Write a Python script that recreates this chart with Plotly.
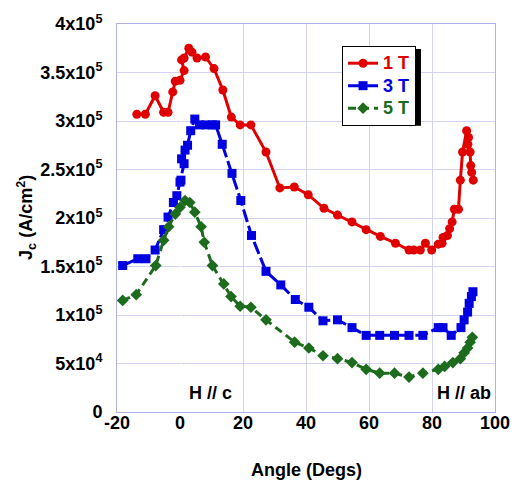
import plotly.graph_objects as go

# 1 T
red_x = [-13.7, -11.0, -7.9, -5.2, -3.8, -2.3, -1.5, 0.0, 1.3, 0.5, 1.3, 2.8, 3.8, 5.4, 8.1, 10.8, 13.6, 16.3, 19.1, 22.5,
         27.3, 31.7, 36.3, 40.7, 45.7, 50.0, 54.6, 59.1, 63.6, 68.4, 72.7, 74.2, 76.3, 77.9, 79.9, 82.0, 83.2, 83.5, 84.9,
         85.6, 86.4, 87.1, 88.4, 89.0, 89.7, 91.0, 91.6, 91.4, 92.1, 92.3, 92.6, 93.1]
red_y = [307, 307, 326, 309, 309, 330, 341, 342, 352, 363, 365, 375, 371, 365, 366, 354, 332, 304, 296, 296,
         268, 231, 232, 224, 210, 203, 196, 188, 181, 174, 167, 167, 167, 174, 167, 173, 174, 180, 182,
         189, 196, 209, 209, 239, 268, 290, 283, 276, 268, 254, 247, 239]
# 3 T
blue_x = [-18.2, -13.4, -10.8, -7.9, -5.2, -3.8, -2.1, -1.0, 0.0, 0.3, 1.3, 0.5, 1.6, 2.4, 3.4, 4.7, 6.2, 8.2, 10.3, 11.3,
          13.4, 16.5, 19.3, 22.7, 27.3, 32.0, 36.6, 40.9, 45.4, 50.0, 54.6, 59.1, 63.4, 68.1, 72.7, 77.1, 82.0, 83.5,
          86.1, 89.2, 90.2, 91.3, 91.8, 92.5, 93.0]
blue_y = [151, 158, 158, 167, 188, 201, 216, 223, 237, 239, 256, 261, 270, 275, 290, 302, 296, 296, 296, 296,
          276, 246, 218, 182, 145, 131, 116, 108, 94, 95, 87, 79, 79, 79, 79, 79, 87, 87,
          79, 87, 95, 103, 112, 119, 124]
# 5 T
green_x = [-18.2, -13.9, -7.7, -5.2, -3.6, -1.5, 0.0, 1.6, 3.1, 4.7, 6.7, 7.7, 10.3, 13.9, 16.2, 19.1, 22.5, 27.3,
           36.4, 40.9, 45.4, 50.0, 54.6, 59.1, 63.4, 68.1, 72.7, 77.1, 82.0, 84.0, 86.6, 89.0, 90.2, 91.3, 92.1, 92.8]
green_y = [115, 121, 151, 177, 191, 204, 211, 218, 216, 206, 191, 175, 151, 132, 119, 109, 108, 95,
           72, 66, 58, 55, 51, 44, 40, 40, 36, 40, 44, 47, 51, 55, 61, 66, 72, 77]

y_tickvals = [0, 50000, 100000, 150000, 200000, 250000, 300000, 350000, 400000]
y_ticktext = ["0", "5x10<sup>4</sup>", "1x10<sup>5</sup>", "1.5x10<sup>5</sup>", "2x10<sup>5</sup>",
              "2.5x10<sup>5</sup>", "3x10<sup>5</sup>", "3.5x10<sup>5</sup>", "4x10<sup>5</sup>"]
x_tickvals = [-20, 0, 20, 40, 60, 80, 100]
x_ticktext = ["-20", "0", "20", "40", "60", "80", "100"]

RED, BLUE, GREEN = "#e10000", "#0000e0", "#1d6b1d"
FONT = "Liberation Sans, Arial, sans-serif"

def lname(label, color):
    return '<span style="color:%s;font-size:18px">%s</span>' % (color, label)

fig = go.Figure()
fig.add_trace(go.Scatter(x=red_x, y=[v * 1000 for v in red_y], mode="lines+markers",
                         name=lname("1 T", RED),
                         line=dict(color=RED, width=3), marker=dict(symbol="circle", size=9, color=RED)))
fig.add_trace(go.Scatter(x=blue_x, y=[v * 1000 for v in blue_y], mode="lines+markers",
                         name=lname("3 T", BLUE),
                         line=dict(color=BLUE, width=3, dash="13px,4px"),
                         marker=dict(symbol="square", size=9, color=BLUE)))
fig.add_trace(go.Scatter(x=green_x, y=[v * 1000 for v in green_y], mode="lines+markers",
                         name=lname("5 T", GREEN),
                         line=dict(color=GREEN, width=3, dash="8px,5px"),
                         marker=dict(symbol="diamond", size=9, color=GREEN)))

L, R, T, B = 117, 17, 23, 69
W, H = 522, 481
pw, ph = W - L - R, H - T - B

def px2paper(px, py):
    return (px - L) / pw, (H - B - py) / ph

# legend drop shadow, offset 3 px right and down from the legend box
sx0, sy0 = px2paper(349, 48)
sx1, sy1 = px2paper(429, 125)
fig.add_shape(type="rect", xref="paper", yref="paper", x0=sx0, y0=sy1, x1=sx1, y1=sy0,
              fillcolor="black", line=dict(width=0), layer="above")

lx, ly = px2paper(348, 45)
fig.update_layout(
    width=W, height=H, margin=dict(l=L, r=R, t=T, b=B),
    paper_bgcolor="white", plot_bgcolor="white",
    font=dict(family=FONT, size=18, color="black", weight="bold"),
    showlegend=True,
    legend=dict(x=lx, y=ly, xanchor="left", yanchor="top", bgcolor="white",
                bordercolor="black", borderwidth=1, font=dict(size=15, weight="bold"),
                tracegroupgap=0, itemwidth=30),
    xaxis=dict(range=[-20, 100], tickvals=x_tickvals, ticktext=x_ticktext, showgrid=True, gridcolor="#d2d2f2",
               zeroline=True, zerolinecolor="white", zerolinewidth=1,
               showline=True, linecolor="#b0b0e6", mirror=True, ticks="",
               ticklabelstandoff=-6, ticklabeloverflow="allow",
               tickfont=dict(size=18, weight="bold")),
    yaxis=dict(range=[0, 400000], tickvals=y_tickvals, ticktext=y_ticktext, showgrid=True,
               gridcolor="#d2d2f2", zeroline=False, showline=True, linecolor="#b0b0e6",
               mirror=True, ticks="", ticklabelstandoff=10, ticklabeloverflow="allow",
               tickfont=dict(size=18, weight="bold")),
)

ax, ay = px2paper(24, 217)
fig.add_annotation(text="J<sub>c</sub> (A/cm<sup>2</sup>)", xref="paper", yref="paper", x=ax, y=ay,
                   xanchor="center", yanchor="middle",
                   textangle=-90, showarrow=False, font=dict(size=18, weight="bold"))
tx, ty = px2paper(312, 470)
fig.add_annotation(text="Angle (Degs)", xref="paper", yref="paper", x=tx, y=ty,
                   xanchor="center", yanchor="middle",
                   showarrow=False, font=dict(size=18, weight="bold"))
fig.add_annotation(text="H // c", x=9.7, y=19500, showarrow=False, bgcolor="white",
                   font=dict(size=18, weight="bold"))
fig.add_annotation(text="H // ab", x=90.1, y=19500, showarrow=False, bgcolor="white",
                   font=dict(size=18, weight="bold"))

fig.write_html("out.html")
